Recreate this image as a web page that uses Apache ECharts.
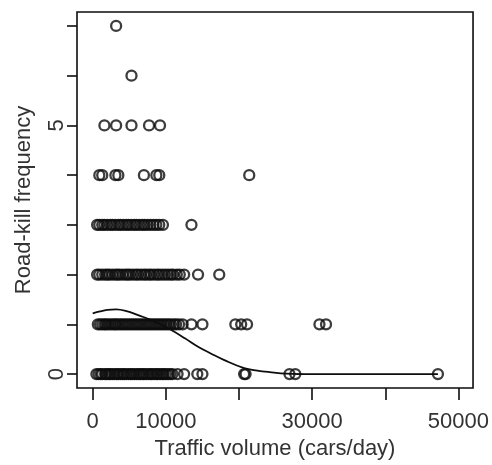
<!DOCTYPE html>
<html>
<head>
<meta charset="utf-8">
<script src="https://cdn.jsdelivr.net/npm/echarts@6/dist/echarts.min.js"></script>
<style>
  html, body { margin: 0; padding: 0; background: #fff; }
  #chart { width: 492px; height: 465px; }
</style>
</head>
<body>
<div id="chart"></div>
<script>
// traffic volume (cars/day) of road segments, grouped by road-kill frequency
const kill0 = [500, 800, 1100, 1300, 1700, 1900, 2200, 2400, 2700, 3000, 3300, 3500, 3800, 4100, 4300, 4600, 4900, 5200, 5400, 5700, 6000, 6300, 6500, 6800, 7000, 7300, 7600, 7900, 8100, 8400, 8700, 8900, 9200, 9500, 9700, 10000, 10300, 10600, 10900, 11600, 12500, 14300, 15000, 20700, 20900, 26900, 27700, 47200]
const kill1 = [700, 1000, 1300, 1600, 1800, 2100, 2400, 2700, 3000, 3200, 3500, 3800, 4100, 4400, 4700, 5000, 5300, 5600, 5900, 6200, 6500, 6800, 7100, 7400, 7700, 8000, 8300, 8600, 8900, 9200, 9500, 9800, 10100, 10400, 10700, 11100, 11400, 11800, 12300, 13500, 15000, 19500, 20300, 21100, 31000, 31900]
const kill2 = [600, 900, 1300, 1700, 2000, 2300, 2700, 3100, 3400, 3700, 4100, 4500, 4800, 5100, 5500, 5900, 6200, 6600, 7000, 7300, 7700, 8000, 8400, 8800, 9100, 9500, 9900, 10300, 10700, 11000, 11500, 11900, 12500, 14400, 17300]
const kill3 = [600, 900, 1300, 1600, 2000, 2400, 2700, 3100, 3500, 3800, 4200, 4600, 4900, 5300, 5700, 6000, 6400, 6800, 7100, 7500, 7900, 8300, 8700, 9100, 9600, 13500]
const kill4 = [900, 1300, 3100, 3500, 7000, 8700, 9100, 21400]
const kill5 = [1600, 3200, 5300, 7700, 9200]
const kill6 = [5300]
const kill7 = [3200]

// fitted curve
const fitX = [0, 1000, 2000, 3200, 4500, 6300, 8600, 10800, 12600, 14400, 16200, 18000, 20700, 22500, 24200, 26500, 30000, 40000, 47200]
const fitY = [1.22, 1.26, 1.29, 1.30, 1.27, 1.18, 1.05, 0.88, 0.72, 0.55, 0.41, 0.28, 0.12, 0.07, 0.04, 0.01, 0, 0, 0]

const xTicks = [0, 10000, 20000, 30000, 40000, 50000]
const xLabels = [0, 10000, 30000, 50000]
const yTicks = [0, 1, 2, 3, 4, 5, 6, 7]
const yLabels = [0, 5]

const groups = [kill0, kill1, kill2, kill3, kill4, kill5, kill6, kill7]
const points = groups.flatMap((xs, freq) => xs.map((x) => [x, freq]))
const fitLine = fitX.map((x, i) => [x, fitY[i]])

const ink = '#0d0d0d'
const textColor = '#333'
const font = 'Liberation Sans, Arial, sans-serif'

const chart = echarts.init(document.getElementById('chart'))
chart.setOption({
  animation: false,
  grid: {
    left: 77,
    right: 12,
    top: 12,
    bottom: 73,
    show: true,
    borderColor: ink,
    borderWidth: 1.6,
  },
  xAxis: {
    type: 'value',
    min: -2150,
    max: 52000,
    name: 'Traffic volume (cars/day)',
    nameLocation: 'middle',
    nameGap: 50,
    nameTextStyle: { color: textColor, fontSize: 22, fontFamily: font },
    axisLine: { show: false, onZero: false },
    axisTick: {
      show: true,
      inside: false,
      length: 12,
      customValues: xTicks,
      lineStyle: { color: ink, width: 1.6 },
    },
    axisLabel: {
      customValues: xLabels,
      formatter: (v) => String(v),
      margin: 23,
      color: textColor,
      fontSize: 22,
      fontFamily: font,
    },
    splitLine: { show: false },
  },
  yAxis: {
    type: 'value',
    min: -0.28,
    max: 7.28,
    name: 'Road-kill frequency',
    nameLocation: 'middle',
    nameRotate: 90,
    nameGap: 42,
    nameTextStyle: { color: textColor, fontSize: 22, fontFamily: font },
    axisLine: { show: false, onZero: false },
    axisTick: {
      show: true,
      inside: false,
      length: 10,
      customValues: yTicks,
      lineStyle: { color: ink, width: 1.6 },
    },
    axisLabel: {
      customValues: yLabels,
      formatter: (v) => String(v),
      rotate: 90,
      margin: 9,
      color: textColor,
      fontSize: 22,
      fontFamily: font,
    },
    splitLine: { show: false },
  },
  series: [
    {
      type: 'scatter',
      data: points,
      symbol: 'circle',
      symbolSize: 10,
      itemStyle: {
        color: 'rgba(0,0,0,0)',
        borderColor: ink,
        borderWidth: 2.3,
      },
      z: 2,
    },
    {
      type: 'line',
      data: fitLine,
      smooth: 0.4,
      showSymbol: false,
      lineStyle: { color: ink, width: 1.8 },
      z: 3,
    },
  ],
})
</script>
</body>
</html>
